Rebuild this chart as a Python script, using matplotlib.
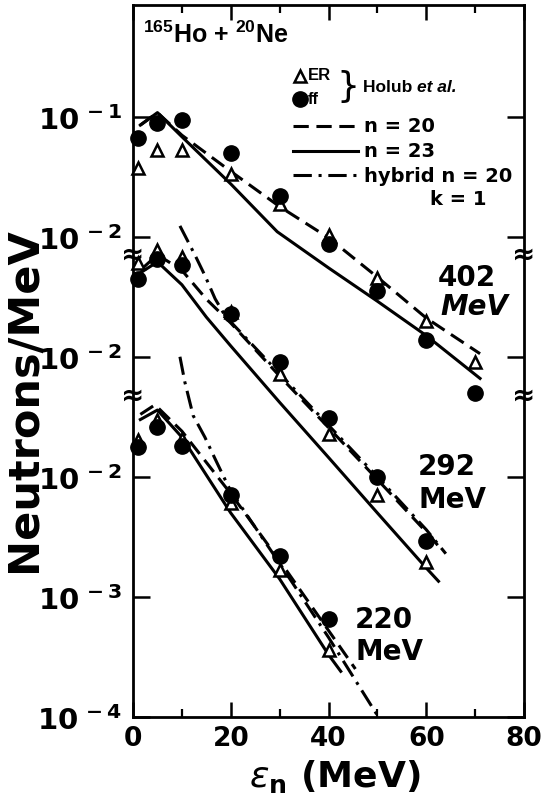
import numpy as np
import matplotlib
matplotlib.use("Agg")
import matplotlib.pyplot as plt

plt.rcParams["mathtext.rm"] = "Liberation Sans"
plt.rcParams["mathtext.bf"] = "Liberation Sans:bold"

# Holub et al. data points (Neutrons/MeV) for each beam energy
x_402 = [1, 5, 10, 20, 30, 40, 50, 60, 70]
ff_402 = [0.066, 0.088, 0.094, 0.050, 0.022, 0.0087, 0.0035, 0.00137, 0.0005]
er_402 = [0.037, 0.0525, 0.0525, 0.0335, 0.0188, 0.0104, 0.0045, 0.00197, 0.0009]

x_292 = [1, 5, 10, 20, 30, 40, 50, 60]
ff_292 = [0.0447, 0.0656, 0.0576, 0.0228, 0.0090, 0.0031, 0.00099, 0.00029]
er_292 = [0.060, 0.077, 0.068, 0.0236, 0.0072, 0.00228, 0.00071, 0.000195]

x_220 = [1, 5, 10, 20, 30, 40]
ff_220 = [0.0177, 0.026, 0.0182, 0.0070, 0.0022, 0.00066]
er_220 = [0.0201, 0.0295, 0.0207, 0.0060, 0.00166, 0.000364]

# model curves
n20_x_402 = [1.5, 5, 10, 20, 30, 40, 50, 60, 71]
n20_402 = [0.085, 0.108, 0.070, 0.035, 0.0178, 0.0098, 0.0046, 0.0021, 0.00106]
n23_x_402 = [1.5, 5, 10, 20, 29.5, 40, 50, 60, 71]
n23_402 = [0.085, 0.108, 0.068, 0.0275, 0.011, 0.0055, 0.0029, 0.0015, 0.00066]

n20_x_292 = [1.5, 5, 10, 15, 20, 30, 40, 50, 60, 63]
n20_292 = [0.0525, 0.0708, 0.0525, 0.0302, 0.0191, 0.0069, 0.00257, 0.00095, 0.000347, 0.000251]
n23_x_292 = [1.5, 5, 10, 15, 20, 30, 40, 50, 60, 62.5]
n23_292 = [0.050, 0.0617, 0.0398, 0.0214, 0.0123, 0.00417, 0.00145, 0.0005, 0.000174, 0.000135]
hyb_x_292 = [9.6, 12.7, 14.7, 16.8, 18.8, 20, 30, 40, 50, 60, 64]
hyb_292 = [0.123, 0.070, 0.0476, 0.0304, 0.0221, 0.0195, 0.00724, 0.00269, 0.001, 0.000363, 0.000229]

n20_x_220 = [1.5, 4.5, 10, 15, 20, 30, 40, 45.5]
n20_220 = [0.0331, 0.0398, 0.024, 0.0132, 0.00724, 0.002, 0.000525, 0.000251]
n23_x_220 = [1.5, 5, 10, 20, 30, 40, 42.5]
n23_220 = [0.030, 0.036, 0.0214, 0.0050, 0.00141, 0.00033, 0.00024]
hyb_x_220 = [9.6, 10.6, 12.3, 14.7, 16.8, 18.8, 20, 30, 40, 50.2]
hyb_220 = [0.1, 0.0617, 0.0324, 0.0214, 0.0141, 0.00955, 0.0076, 0.0019, 0.00046, 0.0001]

# stacked decades: each energy shifted on a shared log axis
offsets = {"402": 6, "292": 5, "220": 4}
ytick_labels = ["-4", "-3", "-2", "-2", "-2", "-1"]
breaks = [3.86, 2.68]

def yp(vals, key):
    return np.log10(vals) + offsets[key]

lw = 2.2
dash = (0, (5, 2.5))
dashdot = (0, (6, 2.2, 1, 2.2))
tri = dict(marker="^", ms=9, mfc="white", mec="black", mew=1.8, ls="none", clip_on=False, zorder=5)
dot = dict(marker="o", ms=11, mfc="black", mec="black", ls="none", clip_on=False, zorder=6)

fig = plt.figure(figsize=(5.44, 8.04), dpi=100)
ax = fig.add_axes([0.2445, 0.107, 0.7188, 0.8856])

for key, xs, ff, er in [("402", x_402, ff_402, er_402),
                        ("292", x_292, ff_292, er_292),
                        ("220", x_220, ff_220, er_220)]:
    ax.plot(xs, yp(ff, key), **dot)
    ax.plot(xs, yp(er, key), **tri)

ax.plot(n20_x_402, yp(n20_402, "402"), color="black", lw=lw, ls=dash)
ax.plot(n23_x_402, yp(n23_402, "402"), color="black", lw=lw)
ax.plot(n20_x_292, yp(n20_292, "292"), color="black", lw=lw, ls=dash)
ax.plot(n23_x_292, yp(n23_292, "292"), color="black", lw=lw)
ax.plot(hyb_x_292, yp(hyb_292, "292"), color="black", lw=lw, ls=dashdot)
ax.plot(n20_x_220, yp(n20_220, "220"), color="black", lw=lw, ls=dash)
ax.plot(n23_x_220, yp(n23_220, "220"), color="black", lw=lw)
ax.plot(hyb_x_220, yp(hyb_220, "220"), color="black", lw=lw, ls=dashdot)

ax.set_xlim(0, 80)
ax.set_ylim(0, 5.93)
ax.set_xticks([0, 20, 40, 60, 80])
ax.set_xticks([10, 30, 50, 70], minor=True)
ax.set_xticklabels(["0", "20", "40", "60", "80"], fontsize=19, fontweight="bold")
ax.set_yticks(range(6))
ax.set_yticklabels([r"$\mathbf{10^{\,%s}}$" % t for t in ytick_labels], fontsize=21)
ax.tick_params(axis="x", which="major", direction="in", length=11, width=1.8, top=True, pad=6)
ax.tick_params(axis="x", which="minor", direction="in", length=6, width=1.6, top=True)
ax.tick_params(axis="y", direction="in", length=12, width=1.8, right=True, pad=8)
for s in ax.spines.values():
    s.set_linewidth(2)

for b in breaks:
    for xb in (0, 80):
        ax.text(xb, b, "≈", ha="center", va="center", fontsize=20, fontweight="bold", clip_on=False)

# annotations
ax.text(0.025, 0.960, r"$^{\mathbf{165}}$Ho + $^{\mathbf{20}}$Ne", transform=ax.transAxes,
        fontsize=18, fontweight="bold", family="Liberation Sans", math_fontfamily="custom",
        va="center")

ax.plot([0.427], [0.900], transform=ax.transAxes, **tri)
ax.plot([0.427], [0.868], transform=ax.transAxes, **dot)
ax.text(0.448, 0.902, "ER", transform=ax.transAxes, fontsize=12, fontweight="bold",
        family="Liberation Sans", va="center")
ax.text(0.520, 0.886, "}", transform=ax.transAxes, fontsize=26, va="center")
ax.text(0.448, 0.868, "ff", transform=ax.transAxes, fontsize=12, fontweight="bold",
        family="Liberation Sans", va="center")
holub = ax.text(0.588, 0.886, "Holub ", transform=ax.transAxes, fontsize=12.5, fontweight="bold",
                family="Liberation Sans", va="center")
ax.annotate("et al.", xy=(1, 0.5), xycoords=holub, fontsize=12.5, fontweight="bold",
            family="Liberation Sans", style="italic", va="center")

legend_rows = [(0.830, dash, "n = 20"), (0.795, "-", "n = 23"), (0.761, dashdot, "hybrid n = 20")]
for fy, style, label in legend_rows:
    ax.plot([0.409, 0.575], [fy, fy], transform=ax.transAxes, color="black", lw=lw, ls=style)
    ax.text(0.591, fy, label, transform=ax.transAxes, fontsize=14, fontweight="bold", va="center")
ax.text(0.760, 0.728, "k = 1", transform=ax.transAxes, fontsize=14, fontweight="bold", va="center")

ax.text(0.780, 0.618, "402", transform=ax.transAxes, fontsize=20, fontweight="bold", va="center")
ax.text(0.785, 0.577, "MeV", transform=ax.transAxes, fontsize=20, fontweight="bold",
        style="italic", va="center")
ax.text(0.729, 0.3525, "292", transform=ax.transAxes, fontsize=20, fontweight="bold", va="center")
ax.text(0.729, 0.306, "MeV", transform=ax.transAxes, fontsize=20, fontweight="bold", va="center")
ax.text(0.568, 0.138, "220", transform=ax.transAxes, fontsize=20, fontweight="bold", va="center")
ax.text(0.568, 0.0927, "MeV", transform=ax.transAxes, fontsize=20, fontweight="bold", va="center")

fig.text(0.044, 0.503, "Neutrons/MeV", rotation=90, ha="center", va="center",
         fontsize=31, fontweight="bold")
fig.text(0.616, 0.034, r"$\epsilon_{\mathbf{n}}$ (MeV)", ha="center", va="center",
         fontsize=26, fontweight="bold")

fig.savefig("out.png", dpi=100)
